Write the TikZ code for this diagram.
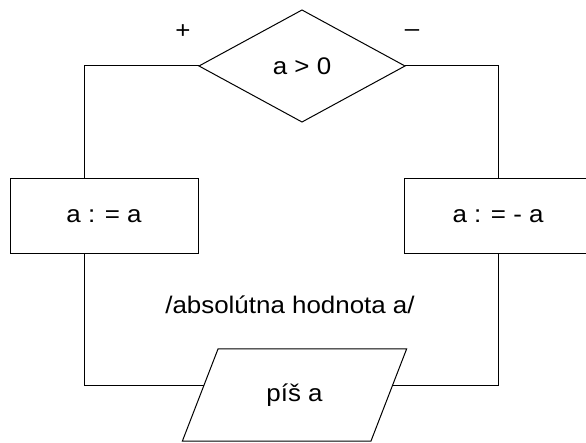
\documentclass[tikz,border=0pt]{standalone}
\usepackage{fontspec}
\setmainfont{Liberation Sans}[FakeStretch=1.08]
\usetikzlibrary{calc,shapes.geometric}

\begin{document}
\begin{tikzpicture}[x=1pt,y=-1pt,line width=1pt,font=\fontsize{24}{28}\selectfont,
    every node/.style={align=center,inner sep=0pt,outer sep=0pt}]
    \useasboundingbox (0,0) rectangle (586,443);
    \node[draw,diamond,minimum width=206pt,minimum height=112pt] (test) at (302,66) {a > 0};
    \node[draw,minimum width=188pt,minimum height=75pt] (assignL) at (104,216.5) {a : = a};
    \node[draw,minimum width=188pt,minimum height=75pt] (assignR) at (498,216.5) {a : = - a};
    \node[draw,trapezium,trapezium left angle=60,trapezium right angle=120,trapezium stretches,
      minimum width=225pt,minimum height=92pt] (print) at (294.5,395) {píš a};
    \node (plus) at (183,32) {+};
    \node (minus) at (412,33) {–};
    \node (note) at (290,305) {/absolútna hodnota a/};
    \draw (test.west) -| ([xshift=-20pt]assignL.north);
    \draw ([xshift=-20pt]assignL.south) |- ($(print.top left corner)!0.4!(print.bottom left corner)$);
    \draw (test.east) -| (assignR.north);
    \draw (assignR.south) |- ($(print.top right corner)!0.4!(print.bottom right corner)$);
  \end{tikzpicture}
\end{document}
